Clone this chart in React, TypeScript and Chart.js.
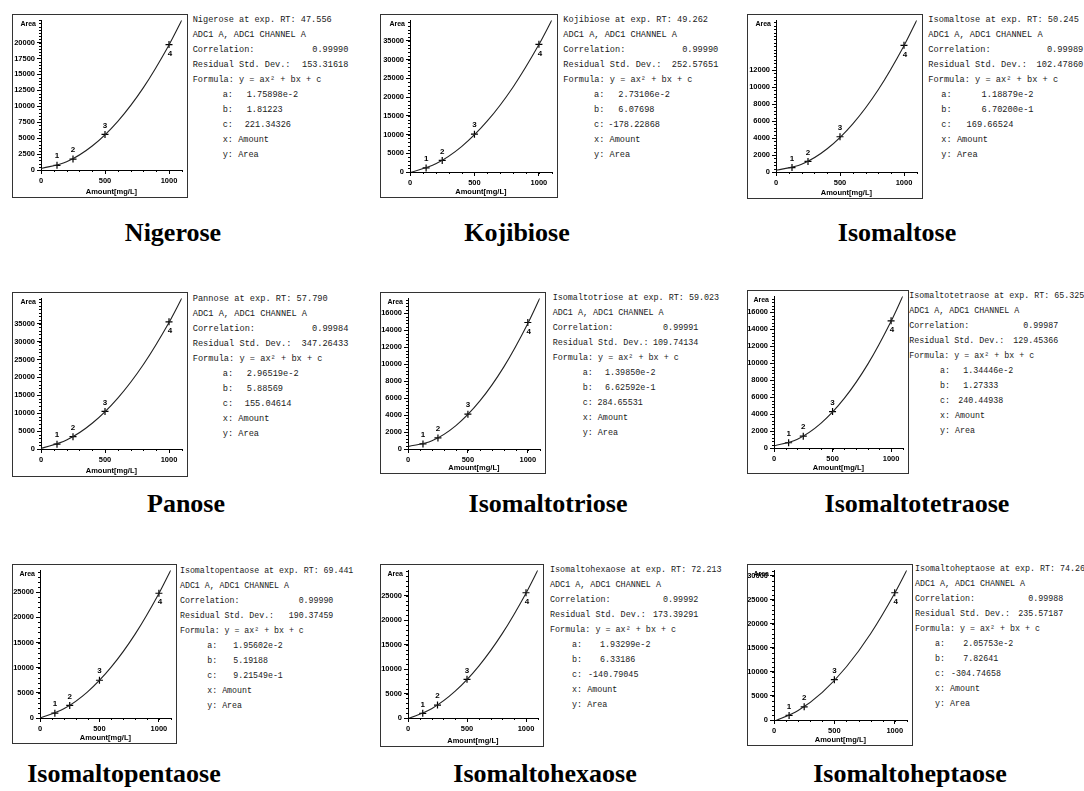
import { useEffect, useRef } from "react";
import { Chart, registerables } from "chart.js";

Chart.register(...registerables);

// ---------------- data ----------------
const TITLES = ["Nigerose", "Kojibiose", "Isomaltose", "Panose", "Isomaltotriose", "Isomaltotetraose", "Isomaltopentaose", "Isomaltohexaose", "Isomaltoheptaose"];
const TEXT_NAMES = ["Nigerose", "Kojibiose", "Isomaltose", "Pannose", "Isomaltotriose", "Isomaltotetraose", "Isomaltopentaose", "Isomaltohexaose", "Isomaltoheptaose"];
const RETENTION_TIMES = ["47.556", "49.262", "50.245", "57.790", "59.023", "65.325", "69.441", "72.213", "74.267"];
const CORRELATIONS = ["0.99990", "0.99990", "0.99989", "0.99984", "0.99991", "0.99987", "0.99990", "0.99992", "0.99988"];
const RESIDUAL_SDS = ["153.31618", "252.57651", "102.47860", "347.26433", "109.74134", "129.45366", "190.37459", "173.39291", "235.57187"];
const COEF_A = ["1.75898e-2", "2.73106e-2", "1.18879e-2", "2.96519e-2", "1.39850e-2", "1.34446e-2", "1.95602e-2", "1.93299e-2", "2.05753e-2"];
const COEF_B = ["1.81223", "6.07698", "6.70200e-1", "5.88569", "6.62592e-1", "1.27333", "5.19188", "6.33186", "7.82641"];
const COEF_C = ["221.34326", "-178.22868", "169.66524", "155.04614", "284.65531", "240.44938", "9.21549e-1", "-140.79045", "-304.74658"];

const STANDARD_AMOUNTS = [125, 250, 500, 1000];
const STANDARD_LABELS = ["1", "2", "3", "4"];
const CURVE_AMOUNTS = [0, 200, 400, 600, 800, 1000, 1100];
const X_TICKS = [0, 500, 1000];
const X_MAX = 1100;
const X_MINOR = 100;

const NIGEROSE_AREAS = [740, 1720, 5580, 19680];
const NIGEROSE_CURVE = [221, 1287, 3761, 7641, 12929, 19623, 23500];
const NIGEROSE_Y_TICKS = [0, 2500, 5000, 7500, 10000, 12500, 15000, 17500, 20000];

const KOJIBIOSE_AREAS = [1100, 3100, 10100, 34100];
const KOJIBIOSE_CURVE = [-183, 2183, 6788, 13632, 22716, 34040, 40540];
const KOJIBIOSE_Y_TICKS = [0, 5000, 10000, 15000, 20000, 25000, 30000, 35000];

const ISOMALTOSE_AREAS = [520, 1250, 4150, 14900];
const ISOMALTOSE_CURVE = [198, 910, 2733, 5666, 9711, 14866, 17860];
const ISOMALTOSE_Y_TICKS = [0, 2000, 4000, 6000, 8000, 10000, 12000];

const PANOSE_AREAS = [1350, 3450, 10500, 35500];
const PANOSE_CURVE = [153, 2493, 7181, 14217, 23602, 35336, 42100];
const PANOSE_Y_TICKS = [0, 5000, 10000, 15000, 20000, 25000, 30000, 35000];

const ISOMALTOTRIOSE_AREAS = [600, 1300, 4100, 14900];
const ISOMALTOTRIOSE_CURVE = [282, 967, 2759, 5660, 9668, 14783, 17760];
const ISOMALTOTRIOSE_Y_TICKS = [0, 2000, 4000, 6000, 8000, 10000, 12000, 14000, 16000];

const ISOMALTOTETRAOSE_AREAS = [620, 1400, 4300, 15000];
const ISOMALTOTETRAOSE_CURVE = [240, 1033, 2901, 5845, 9864, 14958, 17910];
const ISOMALTOTETRAOSE_Y_TICKS = [0, 2000, 4000, 6000, 8000, 10000, 12000, 14000, 16000];

const ISOMALTOPENTAOSE_AREAS = [950, 2500, 7500, 24800];
const ISOMALTOPENTAOSE_CURVE = [1, 1822, 5207, 10158, 16673, 24753, 29380];
const ISOMALTOPENTAOSE_Y_TICKS = [0, 5000, 10000, 15000, 20000, 25000];

const ISOMALTOHEXAOSE_AREAS = [950, 2650, 7900, 25600];
const ISOMALTOHEXAOSE_CURVE = [-141, 1899, 5485, 10617, 17296, 25521, 30210];
const ISOMALTOHEXAOSE_Y_TICKS = [0, 5000, 10000, 15000, 20000, 25000];

const ISOMALTOHEPTAOSE_AREAS = [950, 2750, 8400, 26500];
const ISOMALTOHEPTAOSE_CURVE = [-286, 1959, 5751, 11090, 17977, 26411, 31200];
const ISOMALTOHEPTAOSE_Y_TICKS = [0, 5000, 10000, 15000, 20000, 25000, 30000];

const AREAS = [NIGEROSE_AREAS, KOJIBIOSE_AREAS, ISOMALTOSE_AREAS, PANOSE_AREAS, ISOMALTOTRIOSE_AREAS, ISOMALTOTETRAOSE_AREAS, ISOMALTOPENTAOSE_AREAS, ISOMALTOHEXAOSE_AREAS, ISOMALTOHEPTAOSE_AREAS];
const CURVES = [NIGEROSE_CURVE, KOJIBIOSE_CURVE, ISOMALTOSE_CURVE, PANOSE_CURVE, ISOMALTOTRIOSE_CURVE, ISOMALTOTETRAOSE_CURVE, ISOMALTOPENTAOSE_CURVE, ISOMALTOHEXAOSE_CURVE, ISOMALTOHEPTAOSE_CURVE];
const Y_TICKS = [NIGEROSE_Y_TICKS, KOJIBIOSE_Y_TICKS, ISOMALTOSE_Y_TICKS, PANOSE_Y_TICKS, ISOMALTOTRIOSE_Y_TICKS, ISOMALTOTETRAOSE_Y_TICKS, ISOMALTOPENTAOSE_Y_TICKS, ISOMALTOHEXAOSE_Y_TICKS, ISOMALTOHEPTAOSE_Y_TICKS];
const Y_MAX = [23500, 40540, 17860, 42100, 17760, 17910, 29380, 30210, 31200];
const Y_MINOR = [500, 1000, 400, 1000, 400, 400, 1000, 1000, 1000];

// ---------------- layout ----------------
// outer plot box: [left, top, width, height]
const BOXES = [
  [12, 14, 176, 184], [380, 14, 178, 184], [747, 14, 176, 185],
  [12, 292, 176, 185], [380, 292, 166, 182], [747, 290, 162, 184],
  [12, 564, 165, 180], [380, 564, 164, 183], [747, 564, 166, 182],
];
const Y_AXIS_X = [41, 410, 776, 41, 408, 774, 40, 408, 774];
const X_AXIS_Y = [170, 172, 172, 449, 449, 448, 718, 718, 720];
const TITLE_CX = [173, 517, 897, 186, 548, 917, 124, 545, 910];
const TITLE_BASE = [242, 242, 242, 513, 513, 513, 783, 783, 783];
const TEXT_X = [192.7, 563.3, 928.3, 192.7, 552.7, 909.3, 180, 550, 915];
const TEXT_Y0 = [20.7, 20.7, 20.7, 299.3, 298.3, 296, 570, 570, 569];
const CHAR_W = [5.15, 5.17, 5.2, 5.2, 5.05, 5.0, 4.95, 5.05, 5.0];
const VALUE_RIGHT = [155.7, 155, 155, 155.7, 145.7, 149, 153.3, 148.3, 148.3];
const COEF_LABEL_X = [30, 30.7, 13, 30, 30, 30.7, 27.3, 22, 20];
const AB_VALUE_X = [54, 55, 53.3, 54, 52.3, 54, 53.3, 50, 48.3];
const C_VALUE_X = [52, 45, 38.3, 52, 44.7, 49, 53.3, 38, 36];
const LINE_H = 15;

const NARROW = "'Liberation Sans Narrow', 'Arial Narrow', 'Liberation Sans', Arial, sans-serif";
const MONO = "'Liberation Mono', 'Courier New', monospace";
const SERIF = "'Liberation Serif', 'Times New Roman', serif";

const decorPlugin = {
  id: "decor",
  afterDraw(chart: any, _args: any, opts: any) {
    const { ctx, chartArea, scales } = chart;
    const xs = scales.x;
    const ys = scales.y;
    ctx.save();
    ctx.strokeStyle = "#000";
    ctx.lineWidth = 1;
    ctx.beginPath();
    for (let v = 0; v <= ys.max + 1e-6; v += opts.yMinor) {
      const py = Math.round(ys.getPixelForValue(v)) + 0.5;
      ctx.moveTo(chartArea.left - 2, py);
      ctx.lineTo(chartArea.left + 1, py);
    }
    for (let v = 0; v <= xs.max + 1e-6; v += opts.xMinor) {
      const px = Math.round(xs.getPixelForValue(v)) + 0.5;
      ctx.moveTo(px, chartArea.bottom);
      ctx.lineTo(px, chartArea.bottom + 2);
    }
    ctx.stroke();
    ctx.fillStyle = "#000";
    ctx.font = `bold 7px ${NARROW}`;
    ctx.textAlign = "right";
    ctx.textBaseline = "middle";
    ctx.fillText("Area", chartArea.left - 5, chartArea.top + 3.5);
    const meta = chart.getDatasetMeta(1);
    ctx.font = `bold 8px ${NARROW}`;
    ctx.textAlign = "center";
    meta.data.forEach((el: any, i: number) => {
      const label = opts.labels[i];
      if (i === meta.data.length - 1) ctx.fillText(label, el.x + 1, el.y + 9);
      else ctx.fillText(label, el.x, el.y - 9);
    });
    ctx.restore();
  },
};

function Panel({ i }: { i: number }) {
  const ref = useRef<HTMLCanvasElement>(null);
  const [bx, by, bw, bh] = BOXES[i];
  const cw = bw - 2;
  const ch = bh - 2;
  const yScaleW = Y_AXIS_X[i] - (bx + 1);
  const chartBottom = X_AXIS_Y[i] - (by + 1);
  const xScaleH = ch - chartBottom;

  useEffect(() => {
    const canvas = ref.current;
    if (!canvas) return;
    const tickFont = { family: NARROW, size: 7.5, weight: "bold" as const };
    const chart = new Chart(canvas, {
      type: "scatter",
      data: {
        datasets: [
          {
            type: "line",
            data: CURVE_AMOUNTS.map((x, j) => ({ x, y: CURVES[i][j] })),
            borderColor: "#222",
            borderWidth: 1.1,
            pointRadius: 0,
            cubicInterpolationMode: "monotone",
            fill: false,
          } as any,
          {
            type: "scatter",
            data: STANDARD_AMOUNTS.map((x, j) => ({ x, y: AREAS[i][j] })),
            pointStyle: "cross",
            pointRadius: 3.5,
            borderColor: "#000",
            backgroundColor: "#000",
            borderWidth: 1.2,
          } as any,
        ],
      },
      options: {
        animation: false,
        responsive: false,
        maintainAspectRatio: false,
        events: [],
        layout: { padding: 0 },
        plugins: {
          legend: { display: false },
          tooltip: { enabled: false },
          decor: { yMinor: Y_MINOR[i], xMinor: X_MINOR, labels: STANDARD_LABELS },
        } as any,
        scales: {
          x: {
            type: "linear",
            position: "bottom",
            min: 0,
            max: X_MAX,
            afterBuildTicks: (s: any) => {
              s.ticks = X_TICKS.map((value) => ({ value }));
            },
            afterFit: (s: any) => {
              s.height = xScaleH;
              s.paddingLeft = 0;
              s.paddingRight = 0;
            },
            ticks: { callback: (v: any) => String(v), font: tickFont, color: "#000", padding: 2, maxRotation: 0, autoSkip: false },
            grid: { drawOnChartArea: false, tickLength: 4, color: "#000", tickColor: "#000" },
            border: { display: true, color: "#000", width: 1 },
            title: { display: true, text: "Amount[mg/L]", font: { family: NARROW, size: 7.5, weight: "bold" }, color: "#000", padding: { top: 0, bottom: 1 } },
          } as any,
          y: {
            type: "linear",
            position: "left",
            min: 0,
            max: Y_MAX[i],
            afterBuildTicks: (s: any) => {
              s.ticks = Y_TICKS[i].map((value) => ({ value }));
            },
            afterFit: (s: any) => {
              s.width = yScaleW;
              s.paddingTop = 0;
              s.paddingBottom = 0;
            },
            ticks: { callback: (v: any) => String(v), font: tickFont, color: "#000", padding: 2, autoSkip: false },
            grid: { drawOnChartArea: false, tickLength: 4, color: "#000", tickColor: "#000" },
            border: { display: true, color: "#000", width: 1 },
          } as any,
        },
      },
      plugins: [decorPlugin as any],
    });
    return () => chart.destroy();
  }, []);

  const fs = CHAR_W[i] / 0.6;
  const lineStyle = (k: number): any => ({
    position: "absolute",
    left: 0,
    top: k * LINE_H,
    height: LINE_H,
    lineHeight: `${LINE_H}px`,
    whiteSpace: "pre",
  });
  const abs = (x: number): any => ({ position: "absolute", left: x, top: 0, whiteSpace: "pre" });
  const right = (r: number): any => ({ position: "absolute", right: -r, top: 0, whiteSpace: "pre" });

  return (
    <>
      <div style={{ position: "absolute", left: bx, top: by, width: cw, height: ch, border: "1px solid #333", background: "#fff" }}>
        <canvas ref={ref} width={cw} height={ch} style={{ display: "block", width: cw, height: ch }} />
      </div>
      <div
        style={{
          position: "absolute",
          left: TEXT_X[i],
          top: TEXT_Y0[i] - LINE_H / 2,
          width: 0,
          height: LINE_H * 9,
          fontFamily: MONO,
          fontSize: fs,
          color: "#1a1a1a",
        }}
      >
        <div style={lineStyle(0)}>{`${TEXT_NAMES[i]} at exp. RT: ${RETENTION_TIMES[i]}`}</div>
        <div style={lineStyle(1)}>ADC1 A, ADC1 CHANNEL A</div>
        <div style={{ ...lineStyle(2), width: 0 }}>
          <span style={abs(0)}>Correlation:</span>
          <span style={right(VALUE_RIGHT[i])}>{CORRELATIONS[i]}</span>
        </div>
        <div style={{ ...lineStyle(3), width: 0 }}>
          <span style={abs(0)}>Residual Std. Dev.:</span>
          <span style={right(VALUE_RIGHT[i])}>{RESIDUAL_SDS[i]}</span>
        </div>
        <div style={lineStyle(4)}>Formula: y = ax² + bx + c</div>
        <div style={{ ...lineStyle(5), width: 0 }}>
          <span style={abs(COEF_LABEL_X[i])}>a:</span>
          <span style={abs(AB_VALUE_X[i])}>{COEF_A[i]}</span>
        </div>
        <div style={{ ...lineStyle(6), width: 0 }}>
          <span style={abs(COEF_LABEL_X[i])}>b:</span>
          <span style={abs(AB_VALUE_X[i])}>{COEF_B[i]}</span>
        </div>
        <div style={{ ...lineStyle(7), width: 0 }}>
          <span style={abs(COEF_LABEL_X[i])}>c:</span>
          <span style={abs(C_VALUE_X[i])}>{COEF_C[i]}</span>
        </div>
        <div style={{ ...lineStyle(8), width: 0 }}>
          <span style={abs(COEF_LABEL_X[i])}>x: Amount</span>
        </div>
        <div style={{ ...lineStyle(9), width: 0 }}>
          <span style={abs(COEF_LABEL_X[i])}>y: Area</span>
        </div>
      </div>
      <div
        style={{
          position: "absolute",
          left: TITLE_CX[i],
          top: TITLE_BASE[i] - 21.8,
          transform: "translateX(-50%)",
          fontFamily: SERIF,
          fontWeight: "bold",
          fontSize: 26,
          lineHeight: "26px",
          whiteSpace: "nowrap",
          color: "#000",
        }}
      >
        {TITLES[i]}
      </div>
    </>
  );
}

export default function App() {
  return (
    <div style={{ position: "fixed", left: 0, top: 0, width: 1084, height: 791, background: "#fff", overflow: "hidden" }}>
      {TITLES.map((_, i) => (
        <Panel key={i} i={i} />
      ))}
    </div>
  );
}
